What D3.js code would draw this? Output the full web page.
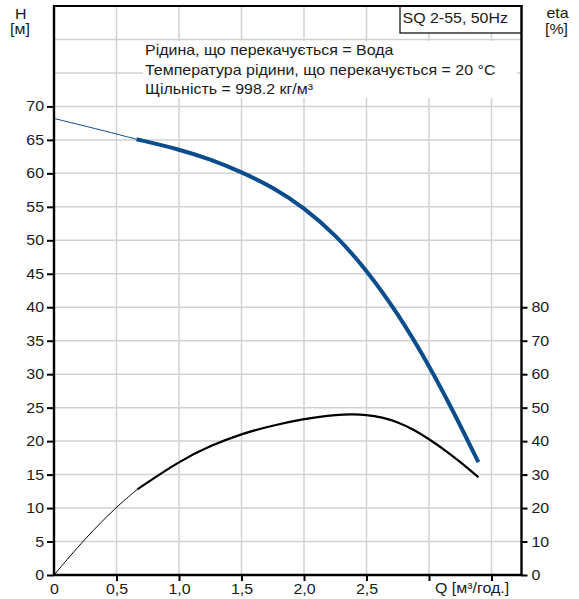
<!DOCTYPE html>
<html><head><meta charset="utf-8">
<script src="https://cdn.jsdelivr.net/npm/d3@7"></script>
<style>
html,body{margin:0;padding:0;background:#fff;}
svg text{font-family:"Liberation Sans",Arial,sans-serif;fill:#1a1a1a;}
</style></head>
<body><svg id="c" width="579" height="599"></svg>
<script>
// ---- data ----
const qTicks = [0, 0.5, 1.0, 1.5, 2.0, 2.5, 3.0, 3.5];
const qTickLabels = ["0", "0,5", "1,0", "1,5", "2,0", "2,5", "", ""];
const hTicks = [0,5,10,15,20,25,30,35,40,45,50,55,60,65,70];
const hGrid = [5,10,15,20,25,30,35,40,45,50,55,60,65,70,75,80];
const etaTicks = [0,10,20,30,40,50,60,70,80];

const hThinQ = [0, 0.33, 0.66];
const hThinH = [68.2, 66.7, 65.1];
const hQ = [0.66, 1.0, 1.25, 1.5, 1.75, 2.0, 2.25, 2.5, 2.75, 3.0, 3.2, 3.395];
const hH = [65.1, 63.6, 62.1, 60.2, 57.95, 54.9, 50.85, 45.6, 39.1, 31.35, 24.25, 16.85];

const etaThinQ = [0, 0.25, 0.5, 0.667];
const etaThinV = [0, 11.0, 20.4, 25.6];
const etaQ = [0.667, 1.0, 1.25, 1.5, 1.75, 2.0, 2.125, 2.25, 2.375, 2.5, 2.625, 2.75, 2.875, 3.0, 3.125, 3.25, 3.395];
const etaV = [25.6, 34.0, 38.6, 42.2, 44.7, 46.6, 47.3, 47.8, 48.05, 47.9, 47.1, 45.7, 43.5, 40.6, 37.4, 33.8, 29.2];

const infoLines = ["Рідина, що перекачується = Вода",
                   "Температура рідини, що перекачується = 20 °C",
                   "Щільність = 998.2 кг/м³"];
const title = "SQ 2-55, 50Hz";

// ---- layout ----
const L = 54, T = 6, R = 521.5, B = 575;
const SX = 1.14;
const fs = "14px";
const svg = d3.select("#c");
const x = d3.scaleLinear().domain([0, 3.74]).range([L, R]);
const y = d3.scaleLinear().domain([0, 85]).range([B, T]);
const ye = d3.scaleLinear().domain([0, 170]).range([B, T]);

function stretch(sel) {
  sel.each(function () {
    const t = d3.select(this);
    const x0 = +t.attr("x") || 0;
    t.attr("x", 0).attr("transform", `translate(${x0},0) scale(${SX},1)`);
  });
  return sel;
}

// grid
svg.append("g").selectAll("line").data(qTicks.slice(1)).join("line")
  .attr("x1", d => x(d)).attr("x2", d => x(d)).attr("y1", T).attr("y2", B)
  .attr("stroke", "#cfd1d3").attr("stroke-width", 1.5);
svg.append("g").selectAll("line").data(hGrid).join("line")
  .attr("x1", L).attr("x2", R).attr("y1", d => y(d)).attr("y2", d => y(d))
  .attr("stroke", "#cfd1d3").attr("stroke-width", 1.5);

// info box
svg.append("rect").attr("x", 143).attr("y", 41).attr("width", 374).attr("height", 57).attr("fill", "#fff");
stretch(svg.append("g").selectAll("text").data(infoLines).join("text")
  .attr("x", 145).attr("y", (d, i) => 55.5 + i * 19.3)
  .style("font-size", fs).text(d => d));

// title box
svg.append("rect").attr("x", 400).attr("y", T).attr("width", R - 400).attr("height", 27)
  .attr("fill", "#fff").attr("stroke", "#000").attr("stroke-width", 1.2);
stretch(svg.append("text").attr("x", 402.5).attr("y", 23).style("font-size", fs).text(title));

// curves
const lineH = d3.line().x(d => x(d[0])).y(d => y(d[1])).curve(d3.curveBasis);
const lineE = d3.line().x(d => x(d[0])).y(d => ye(d[1])).curve(d3.curveBasis);
const blue = "#0b4c8c";
svg.append("path").attr("d", lineH(d3.zip(hThinQ, hThinH))).attr("fill", "none").attr("stroke", blue).attr("stroke-width", 1);
svg.append("path").attr("d", lineH(d3.zip(hQ, hH))).attr("fill", "none").attr("stroke", blue).attr("stroke-width", 4);
svg.append("path").attr("d", lineE(d3.zip(etaThinQ, etaThinV))).attr("fill", "none").attr("stroke", "#000").attr("stroke-width", 1);
svg.append("path").attr("d", lineE(d3.zip(etaQ, etaV))).attr("fill", "none").attr("stroke", "#000").attr("stroke-width", 2.2);

// frame top
svg.append("line").attr("x1", L).attr("x2", R + 1).attr("y1", T).attr("y2", T).attr("stroke", "#000").attr("stroke-width", 2);

// axes
const ax = d3.axisBottom(x).tickValues(qTicks).tickSize(6).tickPadding(3)
  .tickFormat((d, i) => qTickLabels[i]);
const gx = svg.append("g").attr("transform", `translate(0,${B})`).call(ax);
const ayL = d3.axisLeft(y).tickValues(hTicks).tickSize(7).tickPadding(3).tickFormat(d3.format("d"));
const gyl = svg.append("g").attr("transform", `translate(${L},0)`).call(ayL);
const ayR = d3.axisRight(ye).tickValues(etaTicks).tickSize(6).tickPadding(4).tickFormat(d3.format("d"));
const gyr = svg.append("g").attr("transform", `translate(${R},0)`).call(ayR);
[gx, gyl, gyr].forEach(g => {
  g.selectAll(".domain").attr("stroke", "#000").attr("stroke-width", 2.4);
  g.selectAll(".tick line").attr("stroke", "#000").attr("stroke-width", 2);
  stretch(g.selectAll("text").style("font-size", fs).attr("fill", "#1a1a1a")
    .style("font-family", '"Liberation Sans",Arial,sans-serif'));
});
gx.select(".domain").attr("d", `M${L},0H${R + 1}`);
gyl.select(".domain").attr("d", `M0,${B + 1}V${T - 1}`);
gyr.select(".domain").attr("d", `M0,${B + 1}V${T - 1}`);
gx.selectAll(".tick").filter(d => d === 0).select("line").remove();

// axis titles
stretch(svg.append("text").attr("x", 15).attr("y", 19).style("font-size", fs).text("H"));
stretch(svg.append("text").attr("x", 10).attr("y", 34.5).style("font-size", fs).text("[м]"));
stretch(svg.append("text").attr("x", 546.5).attr("y", 18).style("font-size", fs).text("eta"));
stretch(svg.append("text").attr("x", 545).attr("y", 34).style("font-size", fs).text("[%]"));
stretch(svg.append("text").attr("x", 435).attr("y", 593).style("font-size", fs).text("Q [м³/год.]"));
</script></body></html>
